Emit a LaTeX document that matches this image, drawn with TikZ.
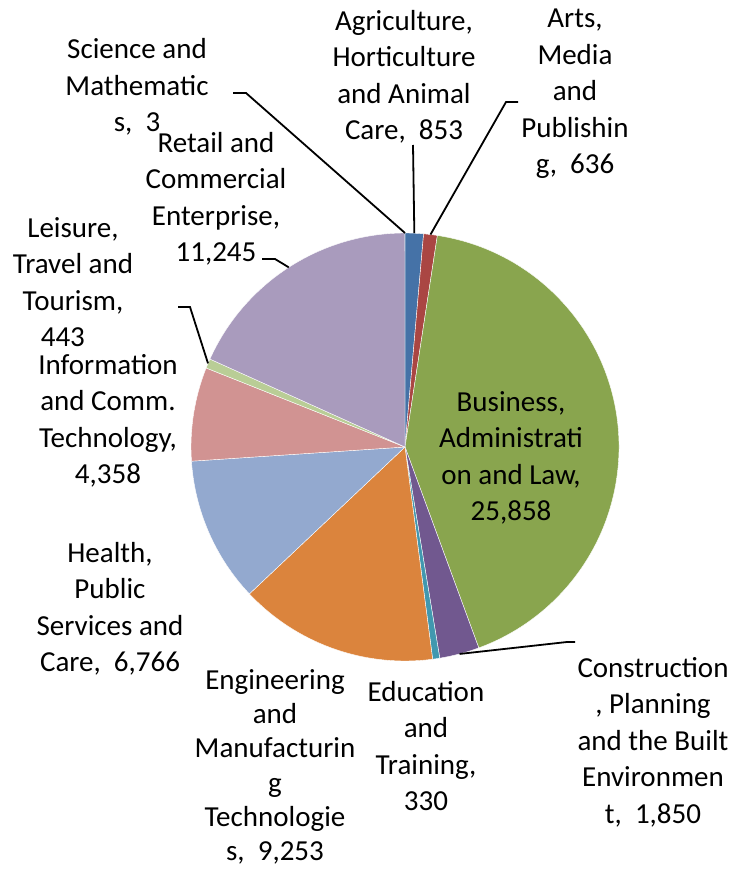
\documentclass[tikz,border=0pt]{standalone}
\usepackage{fontspec}
\setmainfont{Carlito}
\usepackage{tikz}
\definecolor{agri}{HTML}{4572A7}
\definecolor{arts}{HTML}{AA4643}
\definecolor{bus}{HTML}{89A54E}
\definecolor{con}{HTML}{71588F}
\definecolor{edu}{HTML}{4198AF}
\definecolor{eng}{HTML}{DB843D}
\definecolor{hea}{HTML}{93A9CF}
\definecolor{ict}{HTML}{D19392}
\definecolor{lei}{HTML}{B9CD96}
\definecolor{ret}{HTML}{A99BBD}
\definecolor{sci}{HTML}{91C3D5}

\begin{document}
\begin{tikzpicture}[x=1pt,y=1pt,
  slice/.style={draw=white, line width=0.4pt},
  lbl/.style={align=center, inner sep=0pt, font=\fontsize{29}{36.5}\selectfont},
  leader/.style={draw=black, line width=1.8pt}]
\useasboundingbox (0,0) rectangle (733,-869);
\coordinate (c) at (405,-447);
% slices, clockwise from the top
 \filldraw[slice, fill=agri] (c) -- ++(90:214) arc[start angle=90, end angle=85.015, radius=214] -- cycle;
 \filldraw[slice, fill=arts] (c) -- ++(85.015:214) arc[start angle=85.015, end angle=81.298, radius=214] -- cycle;
 \filldraw[slice, fill=bus] (c) -- ++(81.298:214) arc[start angle=81.298, end angle=-69.834, radius=214] -- cycle;
 \filldraw[slice, fill=con] (c) -- ++(-69.834:214) arc[start angle=-69.834, end angle=-80.646, radius=214] -- cycle;
 \filldraw[slice, fill=edu] (c) -- ++(-80.646:214) arc[start angle=-80.646, end angle=-82.575, radius=214] -- cycle;
 \filldraw[slice, fill=eng] (c) -- ++(-82.575:214) arc[start angle=-82.575, end angle=-136.655, radius=214] -- cycle;
 \filldraw[slice, fill=hea] (c) -- ++(-136.655:214) arc[start angle=-136.655, end angle=-176.2, radius=214] -- cycle;
 \filldraw[slice, fill=ict] (c) -- ++(-176.2:214) arc[start angle=-176.2, end angle=-201.671, radius=214] -- cycle;
 \filldraw[slice, fill=lei] (c) -- ++(-201.671:214) arc[start angle=-201.671, end angle=-204.26, radius=214] -- cycle;
 \filldraw[slice, fill=ret] (c) -- ++(-204.26:214) arc[start angle=-204.26, end angle=-269.983, radius=214] -- cycle;
 \fill[sci] (c) -- ++(-269.983:214) arc[start angle=-269.983, end angle=-270, radius=214] -- cycle;
% labels
 \node[lbl] (lsci) at (137,-87) {Science and\\Mathematic\\s,\ \ 3};
 \node[lbl] (lagri) at (404,-77) {Agriculture,\\Horticulture\\and Animal\\Care,\ \ 853};
 \node[lbl] (larts) at (575,-94) {Arts,\\Media\\and\\Publishin\\g,\ \ 636};
 \node[lbl] (lret) at (216,-199) {Retail and\\Commercial\\Enterprise,\\11,245};
 \node[lbl] (llei) at (73,-282) {Leisure,\\Travel and\\Tourism,\\443\hspace*{0.7em}};
 \node[lbl] (lict) at (108,-421) {Information\\and Comm.\\Technology,\\4,358};
 \node[lbl] (lhea) at (110,-609) {Health,\\Public\\Services and\\Care,\ \ 6,766};
 \node[lbl, font=\fontsize{29}{34.3}\selectfont] (leng) at (275,-767) {Engineering\\and\\Manufacturin\\g\\Technologie\\s,\ \ 9,253};
 \node[lbl] (ledu) at (426,-746) {Education\\and\\Training,\\330};
 \node[lbl] (lcon) at (653,-742) {Construction\\, Planning\\and the Built\\Environmen\\t,\ \ 1,850};
 \node[lbl] (lbus) at (511,-458) {Business,\\Administrati\\on and Law,\\25,858};
% leader lines
 \path (c) ++(90:214) coordinate (psci);
 \path (c) ++(87.5:214) coordinate (pagri);
 \path (c) ++(83.16:214) coordinate (parts);
 \path (c) ++(-237.1:214) coordinate (pret);
 \path (c) ++(-203:214) coordinate (plei);
 \path (c) ++(-75.24:214) coordinate (pcon);
 \coordinate (ksci) at (246,-93);
 \coordinate (kagri) at (413,-145);
 \coordinate (karts) at (506,-102);
 \coordinate (kret) at (275,-259);
 \coordinate (klei) at (190,-307);
 \coordinate (kcon) at (567,-642);
 \draw[leader] (psci) -- (ksci) -- ++(-13,0);
 \draw[leader] (pagri) -- (kagri);
 \draw[leader] (parts) -- (karts) -- ++(12,0);
 \draw[leader] (pret) -- (kret) -- ++(-13,0);
 \draw[leader] (plei) -- (klei) -- ++(-12,0);
 \draw[leader] (pcon) -- (kcon) -- ++(8,0);
\end{tikzpicture}
\end{document}
